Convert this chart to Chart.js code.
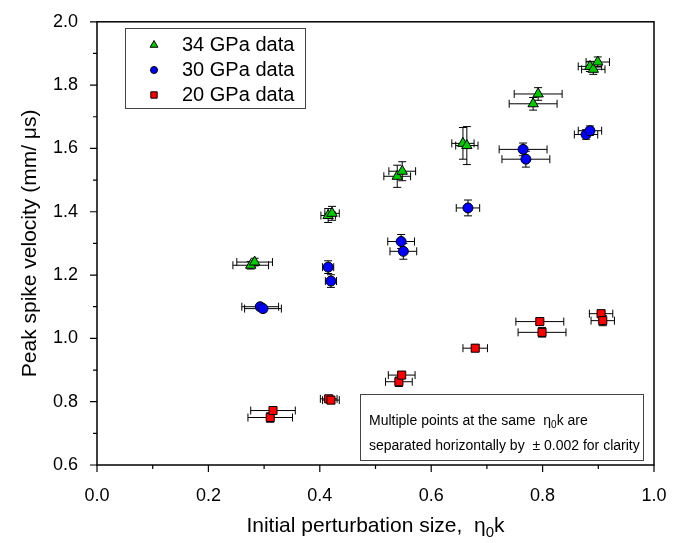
<!doctype html>
<html>

<head>
  <title>Peak spike velocity</title>
  <script src="https://cdn.jsdelivr.net/npm/chart.js@4/dist/chart.umd.min.js"></script>
  <style>
    body { margin: 0; background: #fff; }
  </style>
</head>

<body>
<canvas id="canvas" width="680" height="543"></canvas>
<script>
  // 34 GPa data
  var x34  = [0.276, 0.283, 0.415, 0.422, 0.539, 0.548, 0.657, 0.664, 0.783, 0.792, 0.885, 0.891, 0.899];
  var y34  = [1.231, 1.241, 1.388, 1.395, 1.512, 1.528, 1.616, 1.609, 1.741, 1.772, 1.859, 1.850, 1.873];
  var xe34 = [0.032, 0.032, 0.013, 0.013, 0.024, 0.024, 0.020, 0.020, 0.043, 0.043, 0.021, 0.021, 0.021];
  var ye34 = [0.012, 0.012, 0.022, 0.022, 0.035, 0.030, 0.050, 0.060, 0.020, 0.020, 0.016, 0.016, 0.016];

  // 30 GPa data
  var x30  = [0.293, 0.298, 0.415, 0.420, 0.546, 0.550, 0.666, 0.765, 0.770, 0.878, 0.885];
  var y30  = [1.100, 1.094, 1.225, 1.181, 1.306, 1.275, 1.412, 1.597, 1.566, 1.644, 1.656];
  var xe30 = [0.033, 0.033, 0.010, 0.010, 0.024, 0.024, 0.021, 0.043, 0.043, 0.021, 0.021];
  var ye30 = [0.010, 0.010, 0.020, 0.020, 0.022, 0.025, 0.025, 0.020, 0.025, 0.015, 0.015];

  // 20 GPa data
  var x20  = [0.311, 0.316, 0.416, 0.420, 0.542, 0.547, 0.679, 0.795, 0.799, 0.905, 0.908];
  var y20  = [0.750, 0.772, 0.809, 0.805, 0.863, 0.884, 0.969, 1.053, 1.019, 1.078, 1.056];
  var xe20 = [0.040, 0.040, 0.015, 0.015, 0.024, 0.024, 0.022, 0.043, 0.043, 0.021, 0.021];
  var ye20 = [0.015, 0.010, 0.010, 0.010, 0.015, 0.010, 0.010, 0.010, 0.015, 0.010, 0.016];

  var FONT = "'Liberation Sans', Arial, sans-serif";

  function points(xs, ys, xes, yes) {
    return xs.map(function (x, i) {
      return { x: x, y: ys[i], xe: xes[i], ye: yes[i] };
    });
  }

  function marker(ctx, style, x, y, r, fill) {
    ctx.save();
    ctx.beginPath();
    if (style === 'triangle') {
      ctx.moveTo(x, y - r);
      ctx.lineTo(x + r * 0.866, y + r * 0.5);
      ctx.lineTo(x - r * 0.866, y + r * 0.5);
      ctx.closePath();
    } else if (style === 'rect') {
      var s = r * Math.SQRT1_2;
      ctx.rect(x - s, y - s, 2 * s, 2 * s);
    } else {
      ctx.arc(x, y, r, 0, Math.PI * 2);
    }
    ctx.fillStyle = fill;
    ctx.fill();
    ctx.lineWidth = 1;
    ctx.strokeStyle = '#000';
    ctx.stroke();
    ctx.restore();
  }

  // error bars behind the markers
  var errorBars = {
    id: 'errorBars',
    beforeDatasetsDraw: function (chart) {
      var ctx = chart.ctx, xs = chart.scales.x, ys = chart.scales.y, cap = 4;
      ctx.save();
      ctx.strokeStyle = '#000';
      ctx.lineWidth = 1;
      chart.data.datasets.forEach(function (ds) {
        ds.data.forEach(function (p) {
          var px = xs.getPixelForValue(p.x), py = ys.getPixelForValue(p.y);
          var x1 = xs.getPixelForValue(p.x - p.xe), x2 = xs.getPixelForValue(p.x + p.xe);
          var y1 = ys.getPixelForValue(p.y - p.ye), y2 = ys.getPixelForValue(p.y + p.ye);
          ctx.beginPath();
          ctx.moveTo(x1, py); ctx.lineTo(x2, py);
          ctx.moveTo(x1, py - cap); ctx.lineTo(x1, py + cap);
          ctx.moveTo(x2, py - cap); ctx.lineTo(x2, py + cap);
          ctx.moveTo(px, y1); ctx.lineTo(px, y2);
          ctx.moveTo(px - cap, y1); ctx.lineTo(px + cap, y1);
          ctx.moveTo(px - cap, y2); ctx.lineTo(px + cap, y2);
          ctx.stroke();
        });
      });
      ctx.restore();
    }
  };

  // frame, tick marks, axis titles, legend and note
  var decor = {
    id: 'decor',
    afterDraw: function (chart) {
      var ctx = chart.ctx, a = chart.chartArea;
      var xs = chart.scales.x, ys = chart.scales.y;
      ctx.save();
      ctx.strokeStyle = '#000';
      ctx.lineWidth = 1.5;
      ctx.strokeRect(a.left, a.top, a.right - a.left, a.bottom - a.top);

      ctx.lineWidth = 1.2;
      ctx.beginPath();
      xs.ticks.forEach(function (t) {
        var p = xs.getPixelForValue(t.value);
        var len = Math.round(t.value * 10) % 2 === 0 ? 7 : 4;
        ctx.moveTo(p, a.bottom); ctx.lineTo(p, a.bottom + len);
      });
      ys.ticks.forEach(function (t) {
        var p = ys.getPixelForValue(t.value);
        var len = Math.round(t.value * 10) % 2 === 0 ? 7 : 4;
        ctx.moveTo(a.left, p); ctx.lineTo(a.left - len, p);
      });
      ctx.stroke();

      ctx.fillStyle = '#000';
      // y title
      ctx.save();
      ctx.translate(30, (a.top + a.bottom) / 2);
      ctx.rotate(-Math.PI / 2);
      ctx.font = '21px ' + FONT;
      ctx.textAlign = 'center';
      ctx.textBaseline = 'middle';
      ctx.fillText('Peak spike velocity (mm/ \u03bcs)', 0, 0);
      ctx.restore();

      // x title with subscript
      var main = 'Initial perturbation size,  \u03b7', sub = '0', tail = 'k';
      ctx.font = '21px ' + FONT;
      var w1 = ctx.measureText(main).width, w3 = ctx.measureText(tail).width;
      ctx.font = '15px ' + FONT;
      var w2 = ctx.measureText(sub).width;
      var sx = (a.left + a.right) / 2 - (w1 + w2 + w3) / 2, by = 532;
      ctx.textBaseline = 'alphabetic';
      ctx.textAlign = 'left';
      ctx.font = '21px ' + FONT;
      ctx.fillText(main, sx, by);
      ctx.font = '15px ' + FONT;
      ctx.fillText(sub, sx + w1, by + 5);
      ctx.font = '21px ' + FONT;
      ctx.fillText(tail, sx + w1 + w2, by);

      // legend
      ctx.fillStyle = '#fff';
      ctx.fillRect(125, 28, 180, 80);
      ctx.strokeStyle = '#444';
      ctx.lineWidth = 1;
      ctx.strokeRect(125.5, 28.5, 180, 80);
      ctx.font = '20px ' + FONT;
      ctx.textBaseline = 'middle';
      chart.data.datasets.forEach(function (ds, i) {
        var ly = 45 + i * 25;
        marker(ctx, ds.pointStyle, 154, ly, ds.pointStyle === 'circle' ? 3.5 : 4.5, ds.backgroundColor);
        ctx.fillStyle = '#000';
        ctx.fillText(ds.label, 182, ly);
      });

      // note
      ctx.fillStyle = '#fff';
      ctx.fillRect(360, 394, 283, 66);
      ctx.strokeStyle = '#444';
      ctx.strokeRect(360.5, 394.5, 283, 66);
      ctx.fillStyle = '#000';
      ctx.textBaseline = 'alphabetic';
      ctx.font = '14px ' + FONT;
      var l1 = 'Multiple points at the same  \u03b7';
      ctx.fillText(l1, 369, 425);
      var lw = ctx.measureText(l1).width;
      ctx.font = '10px ' + FONT;
      ctx.fillText('0', 369 + lw, 428);
      var sw = ctx.measureText('0').width;
      ctx.font = '14px ' + FONT;
      ctx.fillText('k are', 369 + lw + sw, 425);
      ctx.fillText('separated horizontally by  \u00b1 0.002 for clarity', 369, 450);
      ctx.restore();
    }
  };

  function tickLabel(v) {
    return Math.round(v * 10) % 2 === 0 ? v.toFixed(1) : '';
  }

  var ctx = document.getElementById('canvas').getContext('2d');
  window.myChart = new Chart(ctx, {
    type: 'scatter',
    data: {
      datasets: [{
        label: '34 GPa data',
        data: points(x34, y34, xe34, ye34),
        pointStyle: 'triangle',
        pointRadius: 6,
        backgroundColor: '#00cc00',
        borderColor: '#000',
        borderWidth: 1
      }, {
        label: '30 GPa data',
        data: points(x30, y30, xe30, ye30),
        pointStyle: 'circle',
        pointRadius: 5,
        backgroundColor: '#0000ff',
        borderColor: '#000',
        borderWidth: 1
      }, {
        label: '20 GPa data',
        data: points(x20, y20, xe20, ye20),
        pointStyle: 'rect',
        pointRadius: 5.7,
        backgroundColor: '#ff0000',
        borderColor: '#000',
        borderWidth: 1
      }]
    },
    options: {
      responsive: false,
      animation: false,
      layout: { padding: { left: 0, top: 17, right: 26, bottom: 0 } },
      plugins: {
        legend: { display: false },
        tooltip: { enabled: false }
      },
      scales: {
        x: {
          type: 'linear',
          min: 0, max: 1,
          grid: { display: false },
          border: { display: false },
          ticks: {
            stepSize: 0.1, autoSkip: false, maxRotation: 0,
            padding: 12, color: '#000',
            font: { family: FONT, size: 18 },
            callback: tickLabel
          },
          afterFit: function (s) { s.height = 78; }
        },
        y: {
          min: 0.6, max: 2.0,
          grid: { display: false },
          border: { display: false },
          ticks: {
            stepSize: 0.1, autoSkip: false,
            padding: 11, color: '#000',
            font: { family: FONT, size: 18 },
            callback: tickLabel
          },
          afterFit: function (s) { s.width = 97; }
        }
      }
    },
    plugins: [errorBars, decor]
  });
</script>
</body>

</html>
